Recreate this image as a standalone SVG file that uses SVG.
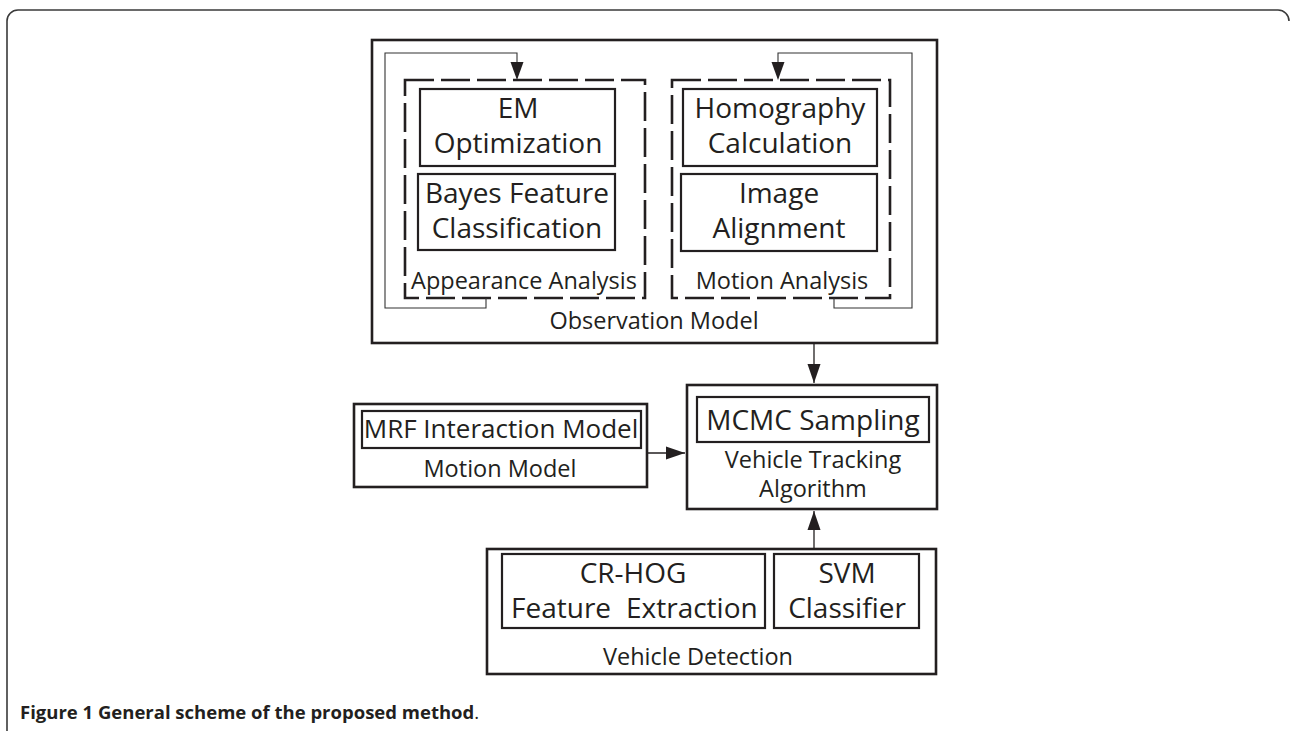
<svg xmlns="http://www.w3.org/2000/svg" width="1290" height="731" viewBox="0 0 1290 731">
<defs>
<style>
.box{fill:none;stroke:#231f20;stroke-width:2.6}
.inner{fill:none;stroke:#231f20;stroke-width:2.2}
.dash{fill:none;stroke:#231f20;stroke-width:2.6;stroke-dasharray:29 7}
.fb{fill:none;stroke:#333333;stroke-width:1.1}
.conn{fill:none;stroke:#231f20;stroke-width:1.3}
.big{font-family:"Open Sans","Liberation Sans",sans-serif;font-size:28px;fill:#231f20;text-anchor:middle}
.small{font-family:"Open Sans","Liberation Sans",sans-serif;font-size:23.5px;fill:#231f20;text-anchor:middle}
.cap{font-family:"Open Sans","Liberation Sans",sans-serif;font-size:18.5px;fill:#231f20}
</style>
<marker id="ah" markerWidth="20" markerHeight="14" refX="19" refY="7" orient="auto" markerUnits="userSpaceOnUse">
<path d="M0,0.5 L19,7 L0,13.5 Z" fill="#231f20"/>
</marker>
</defs>
<rect width="1290" height="731" fill="#ffffff"/>
<path d="M7,731 V21 A11,11 0 0 1 18,10 H1278 A11,11 0 0 1 1289,21" fill="none" stroke="#3a3a3a" stroke-width="1.6"/>

<g id="observation-model">
<rect class="box" x="372" y="40" width="565" height="303"/>
<text class="small" x="654" y="329">Observation Model</text>
</g>

<g id="appearance-analysis">
<rect class="dash" x="405" y="80" width="240" height="218"/>
<text class="small" x="524" y="289">Appearance Analysis</text>
</g>
<g id="em-optimization">
<rect class="inner" x="420" y="89" width="195" height="77"/>
<text class="big" x="518" y="118">EM</text>
<text class="big" x="518" y="153">Optimization</text>
</g>
<g id="bayes-feature-classification">
<rect class="inner" x="418" y="174" width="197" height="76"/>
<text class="big" x="517" y="203">Bayes Feature</text>
<text class="big" x="517" y="238">Classification</text>
</g>

<g id="motion-analysis">
<rect class="dash" x="672" y="80" width="218" height="218"/>
<text class="small" x="782" y="289">Motion Analysis</text>
</g>
<g id="homography-calculation">
<rect class="inner" x="683" y="89" width="194" height="77"/>
<text class="big" x="780" y="118">Homography</text>
<text class="big" x="780" y="153">Calculation</text>
</g>
<g id="image-alignment">
<rect class="inner" x="681" y="174" width="196" height="77"/>
<text class="big" x="779" y="203">Image</text>
<text class="big" x="779" y="238">Alignment</text>
</g>

<g id="vehicle-tracking">
<rect class="box" x="687" y="385" width="250" height="124"/>
<text class="small" x="813" y="468">Vehicle Tracking</text>
<text class="small" x="813" y="497">Algorithm</text>
</g>
<g id="mcmc-sampling">
<rect class="inner" x="697" y="397" width="232" height="45"/>
<text class="big" x="813" y="430">MCMC Sampling</text>
</g>

<g id="motion-model">
<rect class="box" x="354" y="404" width="293" height="83"/>
<text class="small" x="500" y="477">Motion Model</text>
</g>
<g id="mrf-interaction-model">
<rect class="inner" x="362" y="411" width="279" height="37"/>
<text class="big" x="501" y="438" style="font-size:26px">MRF Interaction Model</text>
</g>

<g id="vehicle-detection">
<rect class="box" x="487" y="549" width="449" height="125"/>
<text class="small" x="698" y="665">Vehicle Detection</text>
</g>
<g id="cr-hog-feature-extraction">
<rect class="inner" x="502" y="554" width="263" height="74"/>
<text class="big" x="633" y="583">CR-HOG</text>
<text class="big" style="text-anchor:start" x="511" y="618">Feature <tspan x="626">Extraction</tspan></text>
</g>
<g id="svm-classifier">
<rect class="inner" x="774" y="554" width="145" height="74"/>
<text class="big" x="847" y="583">SVM</text>
<text class="big" x="847" y="618">Classifier</text>
</g>

<g id="connectors">
<path class="fb" d="M486,298 V308 H385 V53 H517 V62"/>
<path d="M510.5,62 L523.5,62 L517,80 Z" fill="#231f20"/>
<path class="fb" d="M834,298 V308 H912 V53 H778 V62"/>
<path d="M771.5,62 L784.5,62 L778,80 Z" fill="#231f20"/>
<line class="conn" x1="814" y1="343" x2="814" y2="383" marker-end="url(#ah)"/>
<line class="conn" x1="647" y1="453" x2="685" y2="453" marker-end="url(#ah)"/>
<line class="conn" x1="814" y1="549" x2="814" y2="511" marker-end="url(#ah)"/>
</g>

<text class="cap" x="20" y="719"><tspan font-weight="bold">Figure 1 General scheme of the proposed method</tspan>.</text>
</svg>
